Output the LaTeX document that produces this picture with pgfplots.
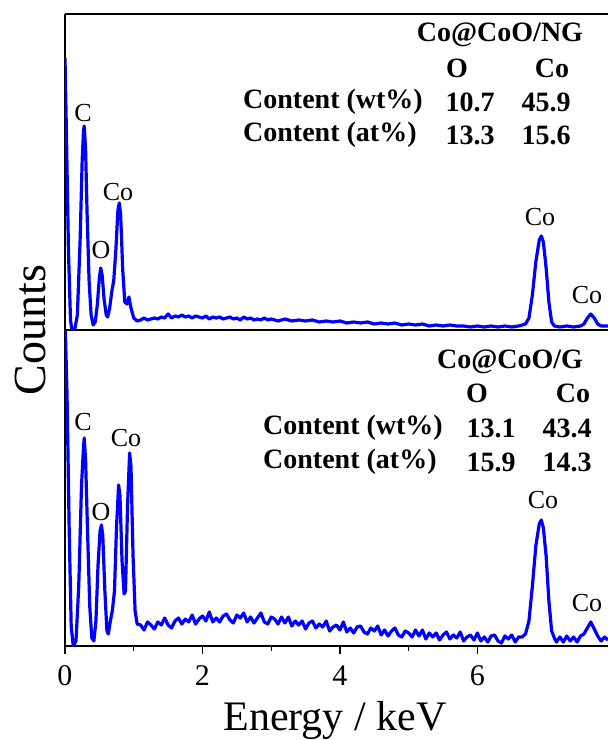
\documentclass[border=0pt]{standalone}
\usepackage{fontspec}
\setmainfont{Liberation Serif}
\usepackage{pgfplots}
\pgfplotsset{compat=1.18}
\begin{document}
\begin{tikzpicture}[x=1pt,y=1pt]
\path[use as bounding box] (-65,-94) rectangle (543,646);
\pgfplotsset{
  panel/.style={
    scale only axis, width=543pt, height=316pt,
    xmin=0, xmax=7.9, ymin=0, ymax=316,
    separate axis lines,
    axis x line*=box, axis y line*=left,
    every outer x axis line/.append style={-},
    every outer y axis line/.append style={-},
    axis line style={-, line width=1.3pt, black},
    ytick=\empty,
    anchor=south west,
  },
  spec/.style={color={rgb,255:red,0;green,0;blue,255}, line width=3.2pt, line join=round, no marks},
}
% bottom panel: Co@CoO/G
\begin{axis}[panel, at={(0,0)},
  xtick={0,2,4,6}, minor x tick num=1, xtick pos=left, tick align=outside,
  major tick length=8pt, minor tick length=5pt,
  tick style={line width=1.2pt, black},
  /pgf/number format/assume math mode=true,
  xticklabel style={font=\fontsize{30}{30}\selectfont, yshift=-8pt},
]
\addplot[spec] table {
0.00 330
0.03 250
0.06 120
0.09 20
0.12 0
0.16 5
0.20 60
0.24 160
0.27 200
0.28 208
0.30 185
0.33 110
0.36 40
0.39 8
0.42 5
0.45 25
0.48 80
0.51 115
0.53 121
0.55 110
0.58 55
0.61 15
0.63 12
0.66 25
0.69 36
0.72 55
0.75 120
0.78 161
0.80 150
0.83 85
0.86 52
0.88 55
0.91 140
0.94 193
0.96 180
0.99 90
1.02 35
1.05 22
1.10 21
1.15 16
1.20 24
1.25 21
1.30 17
1.35 24
1.40 21
1.45 28
1.50 21
1.55 18
1.60 25
1.65 28
1.70 22
1.75 27
1.80 24
1.85 31
1.90 22
1.95 27
2.00 30
2.05 25
2.10 34
2.15 24
2.20 28
2.25 24
2.30 30
2.35 32
2.40 26
2.45 23
2.50 31
2.55 28
2.60 33
2.65 24
2.70 29
2.75 23
2.80 28
2.85 33
2.90 24
2.95 22
3.00 29
3.05 27
3.10 22
3.15 29
3.20 23
3.25 29
3.30 20
3.35 25
3.40 21
3.45 25
3.50 17
3.55 23
3.60 25
3.65 18
3.70 22
3.75 19
3.80 25
3.85 15
3.90 19
3.95 21
4.00 16
4.05 24
4.10 14
4.15 18
4.20 13
4.25 19
4.30 20
4.35 14
4.40 12
4.45 18
4.50 15
4.55 20
4.60 11
4.65 16
4.70 10
4.75 15
4.80 18
4.85 11
4.90 9
4.95 15
5.00 13
5.05 9
5.10 16
5.15 10
5.20 16
5.25 7
5.30 13
5.35 9
5.40 13
5.45 6
5.50 11
5.55 14
5.60 7
5.65 11
5.70 8
5.75 14
5.80 5
5.85 9
5.90 11
5.95 6
6.00 13
6.05 5
6.10 9
6.15 4
6.20 10
6.25 11
6.30 5
6.35 3
6.40 10
6.45 7
6.50 11
6.55 4
6.60 9
6.65 9
6.70 12
6.75 25
6.80 60
6.85 100
6.90 122
6.93 126
6.96 118
7.00 90
7.04 45
7.08 15
7.12 8
7.15 4
7.20 9
7.25 4
7.30 10
7.35 5
7.40 9
7.45 4
7.50 10
7.55 12
7.60 18
7.65 24
7.70 17
7.75 10
7.80 5
7.85 9
7.90 6
};
\end{axis}
% top panel: Co@CoO/NG
\begin{axis}[panel, at={(0,316)}, xtick=\empty]
\addplot[spec] table {
0.00 272
0.02 200
0.05 80
0.08 10
0.10 0
0.14 0
0.18 15
0.22 90
0.25 170
0.27 200
0.28 204
0.30 180
0.32 120
0.35 50
0.38 15
0.41 5
0.44 8
0.47 25
0.50 52
0.52 62
0.54 55
0.57 30
0.60 15
0.62 13
0.65 22
0.68 38
0.71 50
0.74 80
0.77 120
0.79 127
0.81 115
0.84 60
0.87 28
0.90 26
0.93 33
0.96 22
1.00 12
1.05 9
1.10 10
1.15 12
1.20 10
1.25 11
1.30 12
1.35 11
1.40 13
1.45 12
1.50 16
1.55 12
1.60 14
1.65 13
1.70 15
1.75 13
1.80 14
1.85 12
1.90 14
1.95 13
2.00 12
2.05 14
2.10 11
2.15 13
2.20 12
2.25 13
2.30 11
2.35 12
2.40 13
2.45 11
2.50 12
2.55 10
2.60 13
2.65 11
2.70 12
2.75 10
2.80 11
2.85 10
2.90 12
2.95 10
3.00 11
3.10 9
3.20 11
3.30 9
3.40 10
3.50 9
3.60 10
3.70 8
3.80 9
3.90 8
4.00 9
4.10 7
4.20 8
4.30 7
4.40 8
4.50 6
4.60 7
4.70 6
4.80 7
4.90 5
5.00 6
5.10 5
5.20 6
5.30 4
5.40 5
5.50 4
5.60 5
5.70 4
5.80 4
5.90 3
6.00 4
6.10 3
6.20 4
6.30 3
6.40 4
6.50 3
6.60 4
6.70 6
6.75 12
6.80 35
6.85 68
6.90 90
6.93 94
6.96 88
7.00 62
7.04 28
7.08 8
7.12 4
7.20 3
7.30 4
7.40 3
7.50 4
7.55 6
7.60 12
7.65 16
7.70 12
7.75 6
7.80 4
7.90 4
};
\end{axis}
% axis titles
\node[rotate=90, font=\fontsize{46}{46}\selectfont] at (-35,316) {Counts};
\node[font=\fontsize{42}{42}\selectfont] at (270,-74) {Energy / keV};
% peak labels
\begin{scope}[every node/.style={font=\fontsize{26}{26}\selectfont, inner sep=0pt}]
\node at (18,533) {C};
\node at (53,454) {Co};
\node at (36,396) {O};
\node at (475,429) {Co};
\node at (522,351) {Co};
\node at (18,224) {C};
\node at (61,208) {Co};
\node at (36,134) {O};
\node at (478,146) {Co};
\node at (522,43) {Co};
\end{scope}
% tables
\begin{scope}[every node/.style={font=\fontsize{28}{28}\selectfont\bfseries, inner sep=0pt}]
\node at (435,611) {Co@CoO/NG};
\node at (392,578) {O};
\node at (487,578) {Co};
\node[anchor=west] at (178,544) {Content (wt\%)};
\node at (405,544) {10.7};
\node at (481,544) {45.9};
\node[anchor=west] at (178,511) {Content (at\%)};
\node at (405,511) {13.3};
\node at (481,511) {15.6};
\node at (445,284) {Co@CoO/G};
\node at (412,253) {O};
\node at (508,253) {Co};
\node[anchor=west] at (198,218) {Content (wt\%)};
\node at (426,218) {13.1};
\node at (502,218) {43.4};
\node[anchor=west] at (198,184) {Content (at\%)};
\node at (426,184) {15.9};
\node at (502,184) {14.3};
\end{scope}
\end{tikzpicture}
\end{document}
